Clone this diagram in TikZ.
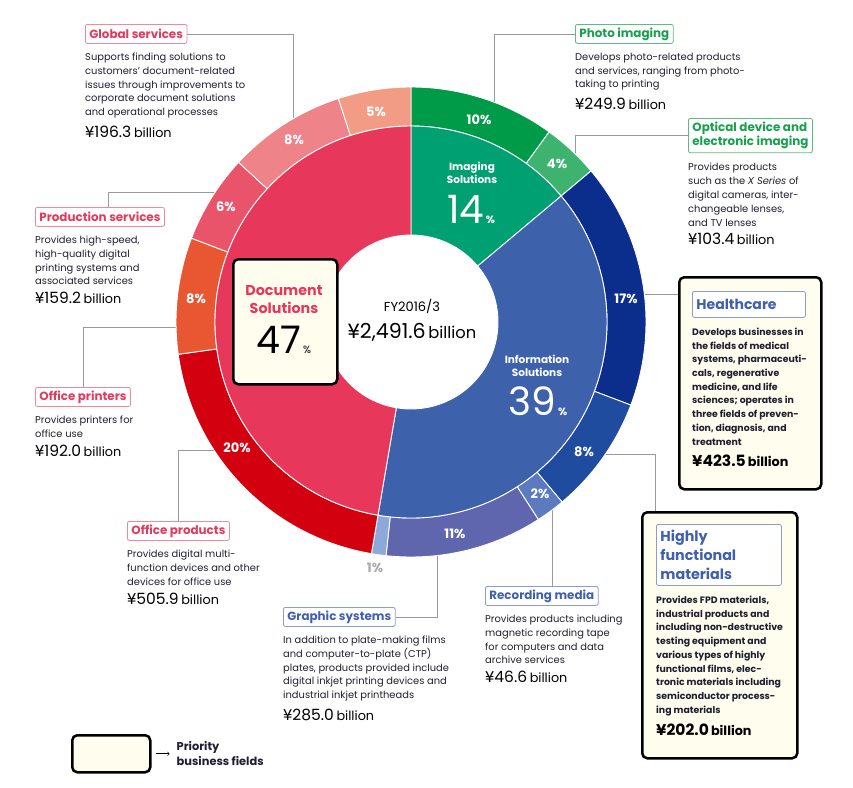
\documentclass[tikz,border=0pt]{standalone}
\usepackage{fontspec}
\setmainfont{Poppins}
\usetikzlibrary{positioning}
\definecolor{photogreen}{HTML}{009B48}
\definecolor{opticgreen}{HTML}{3EB370}
\definecolor{imaginggreen}{HTML}{00A072}
\definecolor{healthblue}{HTML}{0B2D8C}
\definecolor{hfmblue}{HTML}{1F4C9F}
\definecolor{recblue}{HTML}{5C7ABF}
\definecolor{graphblue}{HTML}{6066AD}
\definecolor{oneblue}{HTML}{8EA8DA}
\definecolor{infoblue}{HTML}{3D61AB}
\definecolor{offprodred}{HTML}{D3000F}
\definecolor{offprintred}{HTML}{E85632}
\definecolor{prodpink}{HTML}{E9546B}
\definecolor{globalpink}{HTML}{EE838A}
\definecolor{fivesalmon}{HTML}{F29C85}
\definecolor{docred}{HTML}{E7375A}
\definecolor{pinktext}{HTML}{E23B5C}
\definecolor{pinkline}{HTML}{EE8A98}
\definecolor{bluetext}{HTML}{4060AE}
\definecolor{blueline}{HTML}{8A9CD0}
\definecolor{greentext}{HTML}{18A04E}
\definecolor{greenline}{HTML}{5CBB7E}
\definecolor{desctext}{HTML}{1E1E30}
\definecolor{cream}{HTML}{FFFDEE}
\definecolor{leadergrey}{HTML}{9A9A9A}
\definecolor{onegrey}{HTML}{A8A8B0}
\newcommand{\amt}[1]{{\fontsize{15.5}{17}\selectfont ¥#1} {\fontsize{12.8}{17}\selectfont billion}}

\begin{document}
\begin{tikzpicture}[x=1pt,y=-1pt,
  leader/.style={draw=leadergrey,line width=0.6pt},
  tag/.style={draw=#1line,text=#1text,rounded corners=2pt,line width=0.8pt,
    inner xsep=4pt,inner ysep=0pt,minimum height=19pt,anchor=north west,
    font=\bfseries\fontsize{11.9}{13.5}\selectfont},
  desc/.style={align=left,inner sep=0pt,text=desctext,anchor=north west,
    font=\fontsize{9.9}{13.8}\selectfont},
  amount/.style={inner sep=0pt,text=black,anchor=north west},
  pct/.style={text=white,font=\bfseries\fontsize{13}{14}\selectfont},
  priority/.style={draw=black,line width=2.5pt,fill=cream,rounded corners=5pt,anchor=north west},
  boldtext/.style={align=left,inner sep=0pt,text=desctext,anchor=north west,
    font=\bfseries\fontsize{9.35}{13.7}\selectfont}]

  \useasboundingbox (0,0) rectangle (853,787);

  % ring end points of the leaders
  \coordinate (gs-ring) at (293,119);
  \coordinate (ps-ring) at (215,192);
  \coordinate (op-ring) at (176,327);
  \coordinate (opr-ring) at (214,450);
  \coordinate (gr-ring) at (437,555);
  \coordinate (rm-ring) at (552,510);
  \coordinate (pi-ring) at (494,102);
  \coordinate (od-ring) at (575,154);
  \coordinate (hc-ring) at (644,294);
  \coordinate (hf-ring) at (605,454);
  \coordinate (hf-turn) at (655,454);

  % document solutions
  \node[tag=pink] (gs) at (85,24) {Global services};
  \node[desc,below=9pt of gs.south west,anchor=north west] (gsdesc)
    {Supports finding solutions to\\customers' document-related\\issues through improvements to\\corporate document solutions\\and operational processes};
  \node[amount,below=7pt of gsdesc.south west,anchor=north west] (gsamt) {\amt{196.3}};

  \node[tag=pink] (ps) at (35,207) {Production services};
  \node[desc,below=9pt of ps.south west,anchor=north west] (psdesc)
    {Provides high-speed,\\high-quality digital\\printing systems and\\associated services};
  \node[amount,below=7pt of psdesc.south west,anchor=north west] (psamt) {\amt{159.2}};

  \node[tag=pink] (op) at (35,387) {Office printers};
  \node[desc,below=9pt of op.south west,anchor=north west] (opdesc)
    {Provides printers for\\office use};
  \node[amount,below=7pt of opdesc.south west,anchor=north west] (opamt) {\amt{192.0}};

  \node[tag=pink] (opr) at (127,521) {Office products};
  \node[desc,below=9pt of opr.south west,anchor=north west] (oprdesc)
    {Provides digital multi-\\function devices and other\\devices for office use};
  \node[amount,below=7pt of oprdesc.south west,anchor=north west] (opramt) {\amt{505.9}};

  % information solutions
  \node[tag=blue] (gr) at (283,607) {Graphic systems};
  \node[desc,below=9pt of gr.south west,anchor=north west] (grdesc)
    {In addition to plate-making films\\and computer-to-plate (CTP)\\plates, products provided include\\digital inkjet printing devices and\\industrial inkjet printheads};
  \node[amount,below=7pt of grdesc.south west,anchor=north west] (gramt) {\amt{285.0}};

  \node[tag=blue] (rm) at (485,586) {Recording media};
  \node[desc,below=9pt of rm.south west,anchor=north west] (rmdesc)
    {Provides products including\\magnetic recording tape\\for computers and data\\archive services};
  \node[amount,below=7pt of rmdesc.south west,anchor=north west] (rmamt) {\amt{46.6}};

  % imaging solutions
  \node[tag=green] (pi) at (575,24) {Photo imaging};
  \node[desc,below=9pt of pi.south west,anchor=north west] (pidesc)
    {Develops photo-related products\\and services, ranging from photo-\\taking to printing};
  \node[amount,below=7pt of pidesc.south west,anchor=north west] (piamt) {\amt{249.9}};

  \node[tag=green,align=left,inner ysep=4pt] (od) at (688,118) {Optical device and\\electronic imaging};
  \node[desc,below=10pt of od.south west,anchor=north west] (oddesc)
    {Provides products\\such as the \textit{X Series} of\\digital cameras, inter-\\changeable lenses,\\and TV lenses};
  \node[amount,below=7pt of oddesc.south west,anchor=north west] (odamt) {\amt{103.4}};

  % priority fields
  \node[priority,minimum width=142pt,minimum height=212pt] (hcbox) at (678,276) {};
  \node[tag=blue,fill=white,below right=15pt and 14pt of hcbox.north west,
    font=\bfseries\fontsize{14}{16}\selectfont,text width=105pt,align=left,minimum height=26pt] (hc) {Healthcare};
  \node[boldtext,below=10pt of hc.south west,anchor=north west] (hcdesc)
    {Develops businesses in\\the fields of medical\\systems, pharmaceuti-\\cals, regenerative\\medicine, and life\\sciences; operates in\\three fields of preven-\\tion, diagnosis, and\\treatment};
  \node[amount,below=9pt of hcdesc.south west,anchor=north west,font=\bfseries] (hcamt) {\amt{423.5}};

  \node[priority,minimum width=155pt,minimum height=246pt] (hfbox) at (641,511) {};
  \node[tag=blue,fill=white,below right=13pt and 15pt of hfbox.north west,
    font=\bfseries\fontsize{14.3}{19}\selectfont,text width=117pt,align=left,minimum height=61pt] (hf) {Highly\\functional\\materials};
  \node[boldtext,below=10pt of hf.south west,anchor=north west] (hfdesc)
    {Provides FPD materials,\\industrial products and\\including non-destructive\\testing equipment and\\various types of highly\\functional films, elec-\\tronic materials including\\semiconductor process-\\ing materials};
  \node[amount,below=8pt of hfdesc.south west,anchor=north west,font=\bfseries] (hfamt) {\amt{202.0}};

  % leaders
  \draw[leader] (gs.east) -| (gs-ring);
  \draw[leader] ([xshift=8.5pt]ps.north) |- (ps-ring);
  \draw[leader] (op.north) |- (op-ring);
  \draw[leader] (opr.north) |- (opr-ring);
  \draw[leader] (gr.east) -| (gr-ring);
  \draw[leader] (rm.north -| rm-ring) -- (rm-ring);
  \draw[leader] (pi.west) -| (pi-ring);
  \draw[leader] (od.west) -| (od-ring);
  \draw[leader] (hc-ring) -- (hc-ring -| hcbox.west);
  \draw[leader] (hf-ring) -- (hf-turn) -- (hf-turn |- hfbox.north);

  % the two rings
  \begin{scope}[shift={(411,322)},draw=white,line width=0.9pt]
    \foreach \a/\b/\c in {-90/-54/photogreen,-54/-40/opticgreen,-40/20.7/healthblue,
        20.7/50/hfmblue,50/57.2/recblue,57.2/96.1/graphblue,96.1/99.7/oneblue,
        99.7/172.1/offprodred,172.1/200.9/offprintred,200.9/222.8/prodpink,
        222.8/252/globalpink,252/270/fivesalmon}
      \filldraw[fill=\c] (\a:196) arc[start angle=\a,end angle=\b,radius=196]
        -- (\b:235) arc[start angle=\b,end angle=\a,radius=235] -- cycle;
    \foreach \a/\b/\c in {-90/-40/imaginggreen,-40/99.7/infoblue,99.7/270/docred}
      \filldraw[fill=\c] (\a:87) arc[start angle=\a,end angle=\b,radius=87]
        -- (\b:196) arc[start angle=\b,end angle=\a,radius=196] -- cycle;
  \end{scope}

  \foreach \pos/\txt [count=\i] in {{(479,120)}/10,{(557,164)}/4,{(626,299)}/17,
      {(584,452)}/8,{(540,494)}/2,{(455,534)}/11,{(237,448)}/20,{(196,299)}/8,
      {(226,207)}/6,{(294,140)}/8,{(376,112)}/5}
    \node[pct] (pct\i) at \pos {\txt\%};
  \node[pct,text=onegrey] (pctone) at (375,568) {1\%};

  % centre
  \node[text=black,font=\fontsize{13}{15}\selectfont] (fy) at (412,306) {FY2016/3};
  \node[text=black,anchor=base] (total) at (412,338)
    {{\fontsize{20.6}{22}\selectfont ¥2,491.6} {\fontsize{16.3}{22}\selectfont billion}};

  \node[text=white,align=center,font=\bfseries\fontsize{10.5}{13.5}\selectfont] (ims) at (472,173) {Imaging\\Solutions};
  \node[text=white,anchor=base] (imspct) at (471,223)
    {{\fontsize{39}{39}\selectfont 14}{\fontsize{10.5}{10}\selectfont\bfseries\,\%}};
  \node[text=white,align=center,font=\bfseries\fontsize{10.5}{13.5}\selectfont] (ifs) at (537,366) {Information\\Solutions};
  \node[text=white,anchor=base] (ifspct) at (538,415)
    {{\fontsize{39}{39}\selectfont 39}{\fontsize{10.5}{10}\selectfont\bfseries\,\%}};

  \node[priority,minimum width=104pt,minimum height=125pt] (docbox) at (232,258) {};
  \node[text=docred,align=center,font=\bfseries\fontsize{14.3}{18}\selectfont] (dcs) at (284,300) {Document\\Solutions};
  \node[text=black,anchor=base] (dcspct) at (284,353)
    {{\fontsize{38}{38}\selectfont 47}{\fontsize{10.5}{10}\selectfont\,\%}};

  % legend
  \node[priority,minimum width=78pt,minimum height=37pt] (legend) at (71,734) {};
  \node[align=left,inner sep=0pt,anchor=west,text=desctext,font=\bfseries\fontsize{11.4}{15}\selectfont,
    right=25pt of legend.east] (legtext) {Priority\\business fields};
  \draw[->,black,line width=0.6pt] ([xshift=4pt]legend.east) -- ([xshift=-7pt]legtext.west);
\end{tikzpicture}
\end{document}
